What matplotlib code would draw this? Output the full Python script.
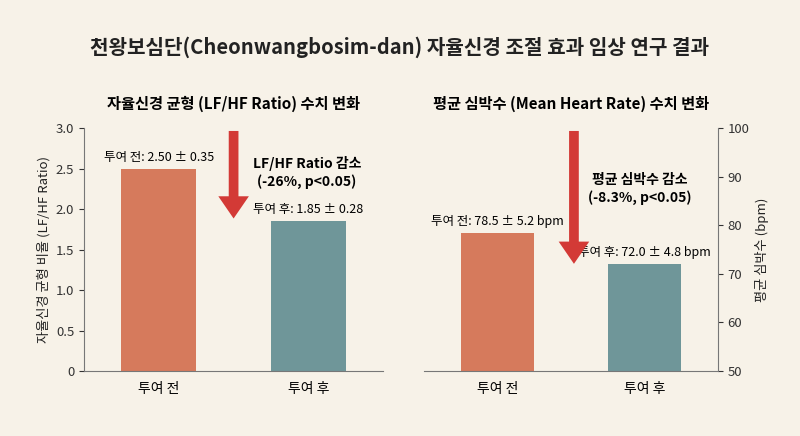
import matplotlib.pyplot as plt

plt.rcParams['font.family'] = ['Noto Sans CJK KR', 'DejaVu Sans']

groups = ['투여 전', '투여 후']
lfhf = [2.50, 1.85]
lfhf_sd = [0.35, 0.28]
hr = [78.5, 72.0]
hr_sd = [5.2, 4.8]
colors = ['#d67a5c', '#6f9699']
bg = '#f7f2e8'
arrow_c = '#d33a36'

fig = plt.figure(figsize=(8, 4.36), dpi=100, facecolor=bg)
fig.text(0.5, 0.892, '천왕보심단(Cheonwangbosim-dan) 자율신경 조절 효과 임상 연구 결과',
         ha='center', va='center', fontsize=14.5, fontweight='bold', color='#222222')

ax1 = fig.add_axes([0.105, 0.149, 0.374, 0.557], facecolor=bg)
ax2 = fig.add_axes([0.53, 0.149, 0.3675, 0.557], facecolor=bg)

# left panel
ax1.bar([0, 1], lfhf, width=0.5, color=colors)
ax1.set_xlim(-0.5, 1.5)
ax1.set_ylim(0, 3.0)
ax1.set_yticks([0, 0.5, 1.0, 1.5, 2.0, 2.5, 3.0])
ax1.set_yticklabels(['0', '0.5', '1.0', '1.5', '2.0', '2.5', '3.0'])
ax1.set_ylabel('자율신경 균형 비율 (LF/HF Ratio)', fontsize=9.5, color='#222222')
ax1.set_title('자율신경 균형 (LF/HF Ratio) 수치 변화', fontsize=11, fontweight='bold', pad=14)
for i in range(2):
    ax1.text(i, lfhf[i] + 0.06, f'{groups[i]}: {lfhf[i]:.2f} ± {lfhf_sd[i]:.2f}',
             ha='center', va='bottom', fontsize=9)
ax1.annotate('', xy=(0.5, 1.85), xytext=(0.5, 3.0),
             arrowprops=dict(arrowstyle='simple,head_width=2.2,head_length=1.6,tail_width=0.7',
                             color=arrow_c, lw=0))
ax1.text(0.99, 2.45, 'LF/HF Ratio 감소\n(-26%, p<0.05)', ha='center', va='center',
         fontsize=10, fontweight='bold', linespacing=1.3)
ax1.spines['top'].set_visible(False)
ax1.spines['right'].set_visible(False)

# right panel
ax2.bar([0, 1], [v - 50 for v in hr], bottom=50, width=0.5, color=colors)
ax2.set_xlim(-0.5, 1.5)
ax2.set_ylim(50, 100)
ax2.set_yticks([50, 60, 70, 80, 90, 100])
ax2.yaxis.tick_right()
ax2.yaxis.set_label_position('right')
ax2.set_ylabel('평균 심박수 (bpm)', fontsize=9.5, color='#222222')
ax2.set_title('평균 심박수 (Mean Heart Rate) 수치 변화', fontsize=11, fontweight='bold', pad=14)
for i in range(2):
    ax2.text(i, hr[i] + 1.0, f'{groups[i]}: {hr[i]:.1f} ± {hr_sd[i]:.1f} bpm',
             ha='center', va='bottom', fontsize=9)
ax2.annotate('', xy=(0.52, 71.5), xytext=(0.52, 100),
             arrowprops=dict(arrowstyle='simple,head_width=2.2,head_length=1.6,tail_width=0.7',
                             color=arrow_c, lw=0))
ax2.text(0.97, 87.5, '평균 심박수 감소\n(-8.3%, p<0.05)', ha='center', va='center',
         fontsize=10, fontweight='bold', linespacing=1.3)
ax2.spines['top'].set_visible(False)
ax2.spines['left'].set_visible(False)

for ax in (ax1, ax2):
    ax.set_xticks([0, 1])
    ax.set_xticklabels(groups, fontsize=10)
    ax.tick_params(axis='y', labelsize=9.5, colors='#333333')
    ax.tick_params(axis='x', length=0, pad=8)
    for s in ax.spines.values():
        s.set_color('#777777')

fig.savefig('out.png', dpi=100, facecolor=bg)
